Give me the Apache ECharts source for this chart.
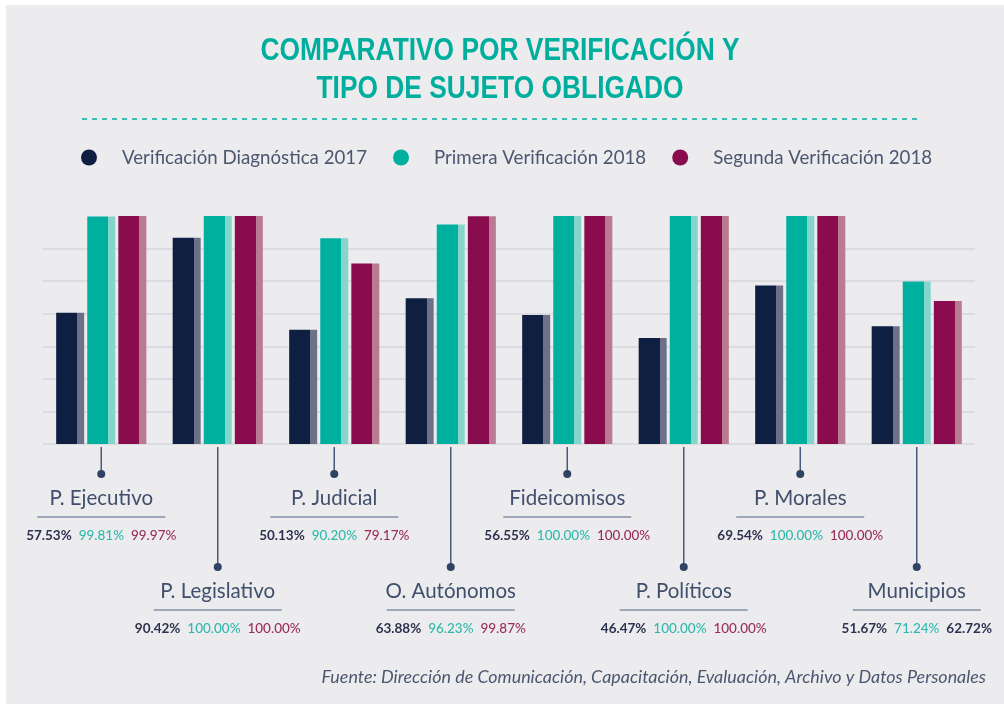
<!DOCTYPE html>
<html>
<head>
<meta charset="utf-8">
<script src="https://cdn.jsdelivr.net/npm/echarts@6/dist/echarts.min.js"></script>
<style>
  html, body { margin: 0; padding: 0; background: #fff; }
  #main { width: 1004px; height: 704px; }
</style>
</head>
<body>
<div id="main"></div>
<script>
// datos (porcentajes por sujeto obligado)
var categories = ['P. Ejecutivo', 'P. Legislativo', 'P. Judicial', 'O. Autónomos', 'Fideicomisos', 'P. Políticos', 'P. Morales', 'Municipios'];
var diagnostica2017 = [57.53, 90.42, 50.13, 63.88, 56.55, 46.47, 69.54, 51.67];
var primera2018 = [99.81, 100.00, 90.20, 96.23, 100.00, 100.00, 100.00, 71.24];
var segunda2018 = [99.97, 100.00, 79.17, 99.87, 100.00, 100.00, 100.00, 62.72];
var seriesNames = ['Verificación Diagnóstica 2017', 'Primera Verificación 2018', 'Segunda Verificación 2018'];
var titleLines = ['COMPARATIVO POR VERIFICACIÓN Y', 'TIPO DE SUJETO OBLIGADO'];

var NAVY = '#0f1f42', TEAL = '#00b09f', WINE = '#880c4e';
var NAVY_TXT = '#2e3150', TEAL_TXT = '#2fb9ad', WINE_TXT = '#9a2d5c';
var SLATE = '#3f4f6c';
var FONT = 'Lato, "Noto Sans", sans-serif';
var TITLE_FONT = '"Liberation Sans", Arial, sans-serif';

// barra con franja clara a la derecha
function shaded(main, light) {
  return new echarts.graphic.LinearGradient(0, 0, 1, 0, [
    { offset: 0, color: main }, { offset: 0.75, color: main },
    { offset: 0.75, color: light }, { offset: 1, color: light }
  ]);
}

function pct(v) { return v.toFixed(2) + '%'; }

// título condensado (no hay fuente narrow, se comprime en x)
function titleText(txt, y) {
  return {
    type: 'text', silent: true, x: 500, y: y, scaleX: 0.85,
    style: {
      text: txt, align: 'center', verticalAlign: 'middle',
      fontFamily: TITLE_FONT, fontWeight: 'bold', fontSize: 31, fill: '#00ae9e'
    }
  };
}

var myChart = echarts.init(document.getElementById('main'));

var option = {
  backgroundColor: '#ffffff',
  animation: false,
  legend: {
    left: 81,
    top: 148,
    padding: 0,
    itemWidth: 16,
    itemHeight: 16,
    itemGap: 26,
    icon: 'circle',
    data: [
      { name: seriesNames[0], itemStyle: { color: NAVY } },
      { name: seriesNames[1], itemStyle: { color: TEAL } },
      { name: seriesNames[2], itemStyle: { color: WINE } }
    ],
    textStyle: { fontFamily: FONT, fontSize: 18.7, color: '#4b5670', padding: [0, 0, 0, 20] }
  },
  grid: { left: 43, right: 29, top: 216, bottom: 260 },
  xAxis: {
    type: 'category',
    data: categories,
    axisLine: { show: false },
    axisTick: { show: false },
    axisLabel: { show: false }
  },
  yAxis: {
    type: 'value',
    min: 0,
    max: 100,
    interval: 100 / 7,
    axisLine: { show: false },
    axisTick: { show: false },
    axisLabel: { show: false },
    splitLine: { showMaxLine: false, lineStyle: { color: '#d7d7db', width: 1.5 } }
  },
  graphic: [
    { type: 'rect', z: -10, silent: true, shape: { x: 6, y: 5, width: 998, height: 699 }, style: { fill: '#ececee' } },
    titleText(titleLines[0], 51),
    titleText(titleLines[1], 89),
    { type: 'line', silent: true, shape: { x1: 82, y1: 119, x2: 918, y2: 119 }, style: { stroke: '#3dbdb4', lineWidth: 2, lineDash: [5, 5] } },
    {
      type: 'text', silent: true, x: 986, y: 677,
      style: {
        text: 'Fuente: Dirección de Comunicación, Capacitación, Evaluación, Archivo y Datos Personales',
        align: 'right', verticalAlign: 'middle',
        fontFamily: FONT, fontStyle: 'italic', fontSize: 17.9, fill: '#4b5670'
      }
    }
  ],
  series: [
    { name: seriesNames[0], type: 'bar', barWidth: 28, barGap: '11%', data: diagnostica2017, itemStyle: { color: shaded(NAVY, '#6d7089') } },
    { name: seriesNames[1], type: 'bar', barWidth: 28, barGap: '11%', data: primera2018, itemStyle: { color: shaded(TEAL, '#86d5cd') } },
    { name: seriesNames[2], type: 'bar', barWidth: 28, barGap: '11%', data: segunda2018, itemStyle: { color: shaded(WINE, '#ba7b92') } },
    {
      // etiquetas con línea guía, nombre, subrayado y porcentajes
      type: 'custom',
      name: 'etiquetas',
      silent: true,
      clip: false,
      z: 5,
      data: categories.map(function (c, i) { return [i, 0]; }),
      renderItem: function (params, api) {
        var i = params.dataIndex;
        var base = api.coord([api.value(0), 0]);
        var x = base[0];
        var y0 = base[1] + 3;
        var yd = base[1] + (i % 2 === 0 ? 30 : 123);
        // la fuente imprime el último valor de Municipios en azul marino
        var thirdStyle = i === categories.length - 1 ? 'a' : 'c';
        return {
          type: 'group',
          children: [
            { type: 'line', shape: { x1: x, y1: y0, x2: x, y2: yd }, style: { stroke: '#4a5a78', lineWidth: 1.5 } },
            { type: 'circle', shape: { cx: x, cy: yd, r: 4 }, style: { fill: '#2f4462' } },
            {
              type: 'text',
              style: {
                text: categories[i], x: x, y: yd + 24, align: 'center', verticalAlign: 'middle',
                fontFamily: FONT, fontSize: 20.5, fill: SLATE
              }
            },
            { type: 'line', shape: { x1: x - 64, y1: yd + 43, x2: x + 64, y2: yd + 43 }, style: { stroke: '#8591a6', lineWidth: 1.5 } },
            {
              type: 'text',
              style: {
                text: '{a|' + pct(diagnostica2017[i]) + '}  {b|' + pct(primera2018[i]) + '}  {' + thirdStyle + '|' + pct(segunda2018[i]) + '}',
                x: x, y: yd + 62, align: 'center', verticalAlign: 'middle',
                fontFamily: FONT, fontSize: 13.5,
                rich: {
                  a: { fontFamily: FONT, fontSize: 13.5, fontWeight: 'bold', fill: NAVY_TXT },
                  b: { fontFamily: FONT, fontSize: 13.5, fontWeight: 500, fill: TEAL_TXT },
                  c: { fontFamily: FONT, fontSize: 13.5, fontWeight: 500, fill: WINE_TXT }
                }
              }
            }
          ]
        };
      }
    }
  ]
};

myChart.setOption(option);
</script>
</body>
</html>
